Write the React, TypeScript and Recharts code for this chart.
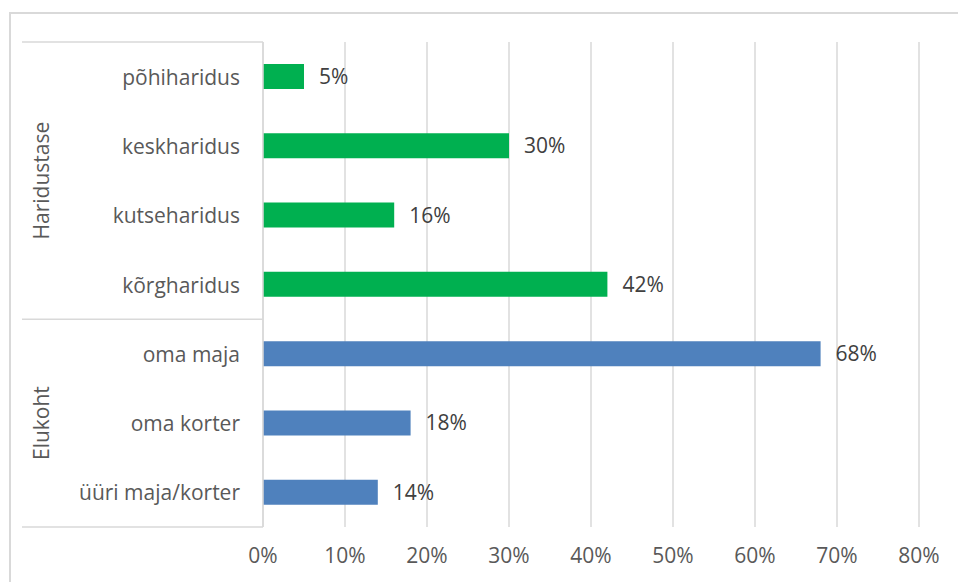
import React from 'react';
import { BarChart, Bar, XAxis, YAxis, CartesianGrid, Cell, LabelList } from 'recharts';

const categories = ['põhiharidus', 'keskharidus', 'kutseharidus', 'kõrgharidus', 'oma maja', 'oma korter', 'üüri maja/korter'];
const shares = [5, 30, 16, 42, 68, 18, 14];
const groups = ['Haridustase', 'Haridustase', 'Haridustase', 'Haridustase', 'Elukoht', 'Elukoht', 'Elukoht'];
const groupColors: Record<string, string> = { Haridustase: '#00B050', Elukoht: '#4F81BD' };
const xTicks = [0, 10, 20, 30, 40, 50, 60, 70, 80];

const data = categories.map((name, i) => ({ name, value: shares[i], group: groups[i] }));

const FONT = '"Open Sans", sans-serif';
const GRID = '#d9d9d9';

const CategoryTick = (props: any) => {
  const { x, y, payload, index } = props;
  const i = payload?.index ?? index;
  const step = payload?.offset ? payload.offset * 2 : 485 / categories.length;
  const axisX = x + 23;
  const first = i === 0 || groups[i - 1] !== groups[i];
  const last = i === groups.length - 1;
  const count = groups.filter((g) => g === groups[i]).length;
  const cy = y + ((count - 1) * step) / 2;
  return (
    <g>
      <text x={x} y={y} textAnchor="end" dominantBaseline="central" fill="#595959" fontSize={21} fontFamily={FONT}>
        {payload.value}
      </text>
      {first && <line x1={22} x2={axisX} y1={y - step / 2} y2={y - step / 2} stroke={GRID} strokeWidth={1.5} />}
      {last && <line x1={22} x2={axisX} y1={y + step / 2} y2={y + step / 2} stroke={GRID} strokeWidth={1.5} />}
      {first && (
        <text
          x={41}
          y={cy}
          transform={`rotate(-90 41 ${cy})`}
          textAnchor="middle"
          dominantBaseline="central"
          fill="#595959"
          fontSize={21}
          fontFamily={FONT}
        >
          {groups[i]}
        </text>
      )}
    </g>
  );
};

export default function App() {
  return (
    <div style={{ position: 'absolute', left: 0, top: 0, width: 958, height: 582, overflow: 'hidden', background: '#fff' }}>
      <div
        style={{
          position: 'absolute',
          left: 9,
          top: 12,
          width: 1000,
          height: 600,
          borderLeft: `2px solid ${GRID}`,
          borderTop: `2px solid ${GRID}`,
        }}
      />
      <div style={{ position: 'absolute', left: 0, top: 0 }}>
        <BarChart
          width={958}
          height={582}
          data={data}
          layout="vertical"
          margin={{ top: 42, right: 39, bottom: 25, left: 0 }}
          barCategoryGap={0}
        >
          <CartesianGrid horizontal={false} stroke={GRID} strokeWidth={1.5} />
          <XAxis
            type="number"
            domain={[0, 80]}
            ticks={xTicks}
            tickFormatter={(v: number) => `${v}%`}
            axisLine={false}
            tickLine={false}
            height={30}
            tickMargin={15}
            tick={{ fill: '#595959', fontSize: 21, fontFamily: FONT }}
          />
          <YAxis
            type="category"
            dataKey="name"
            width={263}
            interval={0}
            tickLine={false}
            tickMargin={17}
            axisLine={{ stroke: GRID, strokeWidth: 1.5 }}
            tick={<CategoryTick />}
          />
          <Bar dataKey="value" barSize={25} isAnimationActive={false}>
            {data.map((d, i) => (
              <Cell key={i} fill={groupColors[d.group]} />
            ))}
            <LabelList
              dataKey="value"
              position="right"
              offset={15}
              formatter={(v: any) => `${v}%`}
              fill="#404040"
              fontSize={21}
              fontFamily={FONT}
            />
          </Bar>
        </BarChart>
      </div>
    </div>
  );
}
